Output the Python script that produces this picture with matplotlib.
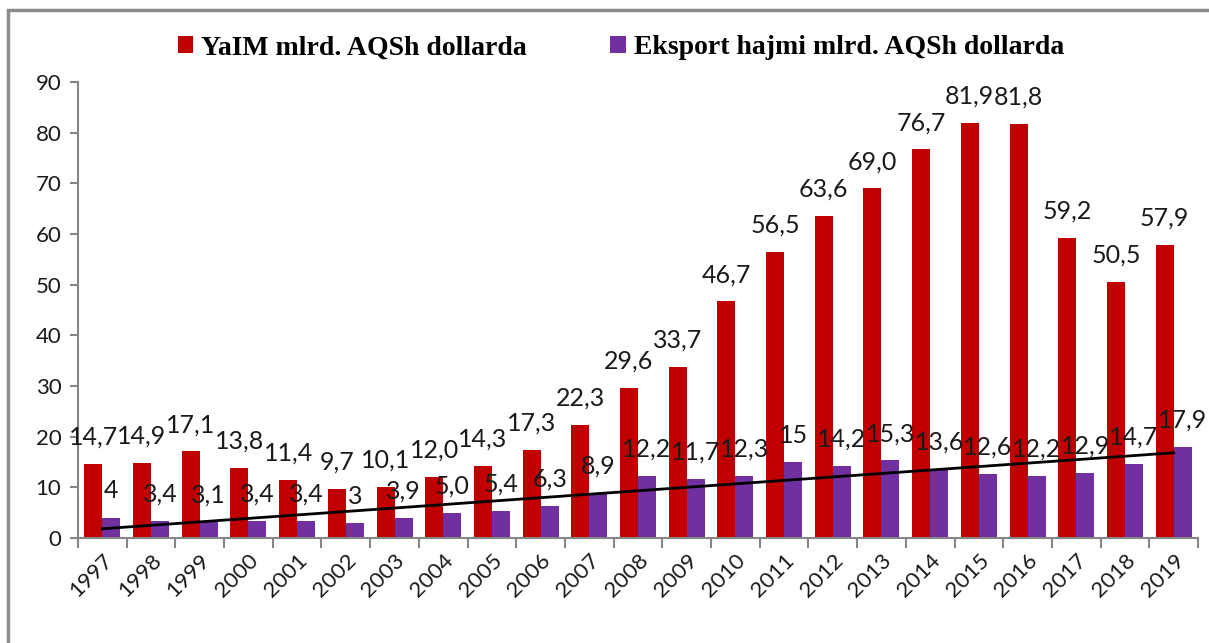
import numpy as np
import matplotlib.pyplot as plt
from matplotlib.patches import Rectangle
from matplotlib.ticker import FixedLocator

years = [str(y) for y in range(1997, 2020)]
yaim = [14.7, 14.9, 17.1, 13.8, 11.4, 9.7, 10.1, 12.0, 14.3, 17.3, 22.3, 29.6,
        33.7, 46.7, 56.5, 63.6, 69.0, 76.7, 81.9, 81.8, 59.2, 50.5, 57.9]
eksport = [4, 3.4, 3.1, 3.4, 3.4, 3, 3.9, 5.0, 5.4, 6.3, 8.9, 12.2,
           11.7, 12.3, 15, 14.2, 15.3, 13.6, 12.6, 12.2, 12.9, 14.7, 17.9]
yaim_labels = ["14,7", "14,9", "17,1", "13,8", "11,4", "9,7", "10,1", "12,0", "14,3",
               "17,3", "22,3", "29,6", "33,7", "46,7", "56,5", "63,6", "69,0", "76,7",
               "81,9", "81,8", "59,2", "50,5", "57,9"]
eksport_labels = ["4", "3,4", "3,1", "3,4", "3,4", "3", "3,9", "5,0", "5,4", "6,3",
                  "8,9", "12,2", "11,7", "12,3", "15", "14,2", "15,3", "13,6", "12,6",
                  "12,2", "12,9", "14,7", "17,9"]

RED = "#C00000"
PURPLE = "#7030A0"
GRAY = "#868686"

fig = plt.figure(figsize=(12.09, 6.43), dpi=100)
ax = fig.add_axes([78 / 1209, 105 / 643, 1120 / 1209, 456 / 643])

x = np.arange(len(years))
w = 0.37
ax.bar(x - w / 2, yaim, w, color=RED, label="YaIM mlrd. AQSh dollarda")
ax.bar(x + w / 2, eksport, w, color=PURPLE, label="Eksport hajmi mlrd. AQSh dollarda")

# linear trend of exports
k, b = np.polyfit(x, eksport, 1)
ax.plot(x, k * x + b, color="black", lw=2)

lab_font = dict(family="Lato", fontsize=18, color="#1a1a1a")
for i in range(len(years)):
    ax.annotate(yaim_labels[i], (x[i] - w / 2, yaim[i]), xytext=(0, 11),
                textcoords="offset points", ha="center", va="bottom", **lab_font)
    ax.annotate(eksport_labels[i], (x[i] + w / 2, eksport[i]), xytext=(0, 11),
                textcoords="offset points", ha="center", va="bottom", **lab_font)

ax.set_xlim(-0.5, len(years) - 0.5)
ax.set_ylim(0, 90)
ax.set_yticks(range(0, 91, 10))
ax.set_xticks(x)
ax.set_xticklabels(years, rotation=45, ha="right", rotation_mode="anchor")
ax.xaxis.set_minor_locator(FixedLocator(np.arange(-0.5, len(years), 1)))
ax.tick_params(axis="x", which="major", length=0, pad=9)
ax.tick_params(axis="x", which="minor", length=7, width=1.5, color=GRAY)
ax.tick_params(axis="y", length=6, width=1.5, color=GRAY, pad=6)
for t in ax.get_xticklabels() + ax.get_yticklabels():
    t.set_fontfamily("Lato")
    t.set_fontsize(16)
    t.set_color("#1a1a1a")

for s in ["top", "right"]:
    ax.spines[s].set_visible(False)
for s in ["left", "bottom"]:
    ax.spines[s].set_color(GRAY)
    ax.spines[s].set_linewidth(1.5)

fig.legend(loc="center", bbox_to_anchor=(621 / 1209, 1 - 48 / 643), ncol=2,
           frameon=False, handlelength=0.55, handleheight=0.55, handletextpad=0.3,
           columnspacing=3.0,
           prop=dict(family="Liberation Serif", weight="bold", size=20))

fig.patches.append(Rectangle((8 / 1209, -0.1), 1.2, 1 - 10 / 643 + 0.1,
                             transform=fig.transFigure, fill=False,
                             edgecolor="#8c8c8c", lw=2.5))

fig.savefig("out.png", dpi=100)
